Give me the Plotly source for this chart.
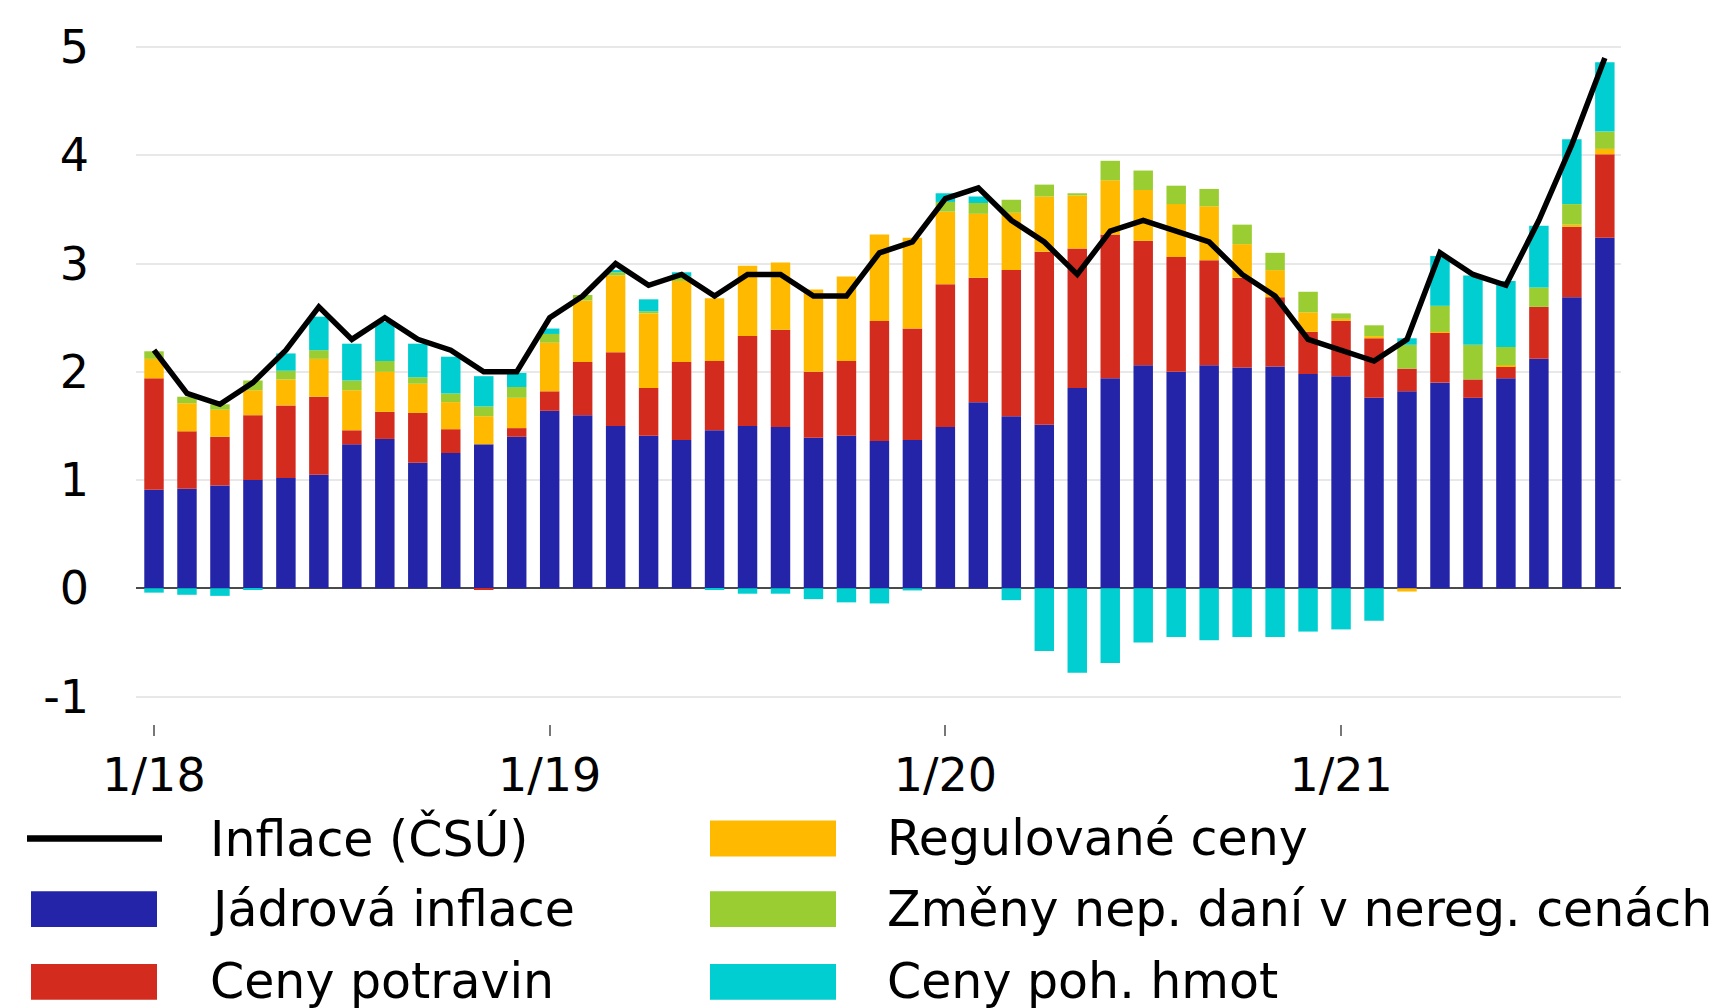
import plotly.graph_objects as go

# ---------------- data ----------------
months = [f"{m}/{y}" for y in (18, 19, 20, 21) for m in range(1, 13)][:45]

inflace = [2.2, 1.8, 1.7, 1.9, 2.2, 2.6, 2.3, 2.5, 2.3, 2.2, 2.0, 2.0,
           2.5, 2.7, 3.0, 2.8, 2.9, 2.7, 2.9, 2.9, 2.7, 2.7, 3.1, 3.2,
           3.6, 3.7, 3.4, 3.2, 2.9, 3.3, 3.4, 3.3, 3.2, 2.9, 2.7, 2.3,
           2.2, 2.1, 2.3, 3.1, 2.9, 2.8, 3.4, 4.1, 4.9]

jadrova = [0.91, 0.92, 0.95, 1.00, 1.02, 1.05, 1.33, 1.38, 1.16, 1.25, 1.33, 1.40,
           1.64, 1.60, 1.50, 1.41, 1.37, 1.46, 1.50, 1.49, 1.39, 1.41, 1.36, 1.37,
           1.49, 1.72, 1.59, 1.51, 1.85, 1.94, 2.06, 2.00, 2.06, 2.04, 2.05, 1.98,
           1.96, 1.76, 1.82, 1.90, 1.76, 1.94, 2.12, 2.69, 3.24]

potraviny = [1.03, 0.53, 0.45, 0.60, 0.67, 0.72, 0.13, 0.25, 0.46, 0.22, -0.01, 0.08,
             0.18, 0.49, 0.68, 0.44, 0.72, 0.64, 0.83, 0.90, 0.61, 0.69, 1.11, 1.03,
             1.32, 1.15, 1.35, 1.60, 1.29, 1.33, 1.15, 1.06, 0.97, 0.83, 0.64, 0.39,
             0.51, 0.55, 0.21, 0.46, 0.17, 0.11, 0.48, 0.65, 0.77]

regulovane = [0.18, 0.26, 0.25, 0.23, 0.24, 0.35, 0.37, 0.37, 0.27, 0.25, 0.26, 0.28,
              0.45, 0.57, 0.71, 0.69, 0.75, 0.58, 0.65, 0.62, 0.76, 0.78, 0.80, 0.84,
              0.67, 0.59, 0.53, 0.51, 0.49, 0.50, 0.47, 0.49, 0.50, 0.31, 0.25, 0.18,
              0.02, 0.02, -0.03, 0.01, 0.00, 0.01, 0.00, 0.02, 0.05]

dane = [0.07, 0.06, 0.05, 0.09, 0.08, 0.08, 0.09, 0.10, 0.06, 0.08, 0.09, 0.10,
        0.08, 0.05, 0.03, 0.02, 0.04, 0.00, 0.00, 0.00, 0.00, 0.00, 0.00, 0.00,
        0.09, 0.10, 0.12, 0.11, 0.02, 0.18, 0.18, 0.17, 0.16, 0.18, 0.16, 0.19,
        0.05, 0.10, 0.22, 0.24, 0.32, 0.17, 0.18, 0.19, 0.16]

pohonne = [-0.04, -0.06, -0.07, -0.01, 0.16, 0.31, 0.34, 0.36, 0.31, 0.34, 0.28, 0.13,
           0.05, 0.00, 0.02, 0.11, 0.04, -0.01, -0.05, -0.05, -0.10, -0.13, -0.14, -0.02,
           0.08, 0.06, -0.11, -0.58, -0.78, -0.69, -0.50, -0.45, -0.48, -0.45, -0.45, -0.40,
           -0.38, -0.30, 0.06, 0.46, 0.64, 0.61, 0.57, 0.60, 0.64]

tick_vals = ["1/18", "1/19", "1/20", "1/21"]
y_ticks = [-1, 0, 1, 2, 3, 4, 5]
y_tick_text = ["-1", "0", "1", "2", "3", "4", "5"]

series = [
    ("Jádrová inflace", jadrova, "#2424A8"),
    ("Ceny potravin", potraviny, "#D42B1F"),
    ("Regulované ceny", regulovane, "#FFBA00"),
    ("Změny nep. daní v nereg. cenách", dane, "#9ACD32"),
    ("Ceny poh. hmot", pohonne, "#00CED1"),
]

FONT = "DejaVu Sans"
OFF = 8                      # browser default body margin
W, H = 1731 - OFF, 1008 - OFF
# plot area in page pixels: left 136, right 1621, top 42, bottom 724
ML, MR, MT, MB = 136 - OFF, W - (1621 - OFF), 42 - OFF, H - (724 - OFF)

fig = go.Figure()
for name, vals, col in series:
    fig.add_trace(go.Bar(x=months, y=vals, name=name, marker_color=col,
                         marker_line_width=0, showlegend=False))
fig.add_trace(go.Scatter(x=months, y=inflace, name="Inflace (ČSÚ)", mode="lines",
                         line=dict(color="black", width=5.5), showlegend=False))

# ---------------- custom legend (page pixel positions -> paper) ----------------
pw, ph = W - ML - MR, H - MT - MB
def px(x):
    return (x - OFF - ML) / pw
def py(y):
    return (H - MB - (y - OFF)) / ph

shapes = []
annotations = []
rows = [839, 910, 983]
col1 = [("Inflace (ČSÚ)", None, "line")] + [(n, c, "rect") for n, v, c in series[:2]]
col2 = [(n, c, "rect") for n, v, c in series[2:]]
for (items, sx0, sx1, tx) in ((col1, 31, 157, 208), (col2, 710, 836, 885)):
    for (name, col, kind), ry in zip(items, rows):
        if kind == "line":
            shapes.append(dict(type="line", xref="paper", yref="paper",
                               x0=px(27), x1=px(162), y0=py(ry), y1=py(ry),
                               line=dict(color="black", width=6.5)))
        else:
            shapes.append(dict(type="rect", xref="paper", yref="paper",
                               x0=px(sx0), x1=px(sx1), y0=py(ry + 18), y1=py(ry - 18),
                               fillcolor=col, line=dict(width=0)))
        annotations.append(dict(text=name, xref="paper", yref="paper",
                                x=px(tx), y=py(ry), xanchor="left", yanchor="middle",
                                showarrow=False, font=dict(family=FONT, size=49, color="black")))

fig.update_layout(
    width=W, height=H,
    margin=dict(l=ML, r=MR, t=MT, b=MB),
    paper_bgcolor="white", plot_bgcolor="white",
    barmode="relative", bargap=0.41,
    font=dict(family=FONT, color="black"),
    shapes=shapes, annotations=annotations,
    showlegend=False,
)
fig.update_xaxes(
    type="category", range=[-0.546, 44.49],
    tickmode="array", tickvals=tick_vals, ticktext=tick_vals,
    ticks="outside", ticklen=11, tickwidth=2, tickcolor="#777777",
    tickfont=dict(family=FONT, size=46, color="black"),
    showgrid=False, showline=False, zeroline=False,
)
fig.update_yaxes(
    range=[-1.254, 5.02], tickmode="array", tickvals=y_ticks, ticktext=y_tick_text,
    showgrid=True, gridcolor="#E8E8E8", gridwidth=2,
    zeroline=True, zerolinecolor="#4A4A4A", zerolinewidth=2,
    showline=False, ticks="", ticklabelstandoff=46,
    tickfont=dict(family=FONT, size=46, color="black"),
)

fig.write_html("out.html")
